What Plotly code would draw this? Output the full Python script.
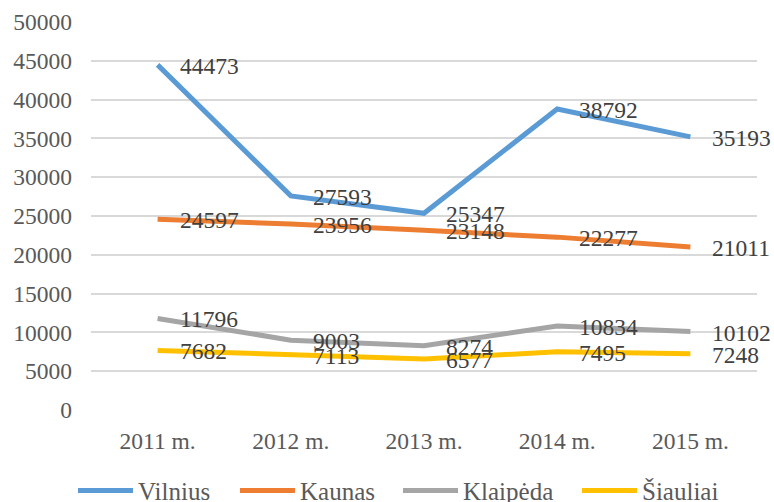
import plotly.graph_objects as go

categories = ["2011 m.", "2012 m.", "2013 m.", "2014 m.", "2015 m."]
series_names = ["Vilnius", "Kaunas", "Klaipėda", "Šiauliai"]
vilnius = [44473, 27593, 25347, 38792, 35193]
kaunas = [24597, 23956, 23148, 22277, 21011]
klaipeda = [11796, 9003, 8274, 10834, 10102]
siauliai = [7682, 7113, 6577, 7495, 7248]
colors = ["#5B9BD5", "#ED7D31", "#A5A5A5", "#FFC000"]
legend_widths = [92, 93, 109, 80]
y_ticks = list(range(0, 50001, 5000))

FONT = "Liberation Serif"
fig = go.Figure()
all_series = [vilnius, kaunas, klaipeda, siauliai]
for name, vals, col, lw in zip(series_names, all_series, colors, legend_widths):
    fig.add_trace(go.Scatter(
        x=categories, y=vals, name=name, mode="lines", legendwidth=lw,
        line=dict(color=col, width=5), hoverinfo="skip"))
    for c, v in zip(categories, vals):
        fig.add_annotation(x=c, y=v, text=str(v), showarrow=False,
                           xanchor="left", yanchor="middle", xshift=20, yshift=-1,
                           font=dict(family=FONT, size=23.5, color="#404040"))

fig.update_layout(
    width=774, height=502,
    margin=dict(l=91, r=17, t=22, b=92, autoexpand=False),
    paper_bgcolor="white", plot_bgcolor="white",
    font=dict(family=FONT, size=23.5, color="#595959"),
    showlegend=True,
    legend=dict(orientation="h", xref="container", yref="paper",
                x=73 / 774, xanchor="left", y=-0.149, yanchor="top",
                font=dict(family=FONT, size=25, color="#595959"),
                itemwidth=55, tracegroupgap=0,
                bgcolor="rgba(0,0,0,0)"),
    xaxis=dict(type="category", range=[-0.5, 4.5], showgrid=False, zeroline=False,
               showline=False, ticks="", ticklabelstandoff=14, fixedrange=True,
               automargin=False),
    yaxis=dict(range=[0, 50000], tickvals=y_ticks, ticktext=[str(t) for t in y_ticks],
               showgrid=True, gridcolor="#D9D9D9", gridwidth=1.5, zeroline=False,
               showline=False, ticks="", ticklabelstandoff=18, fixedrange=True,
               automargin=False),
)
fig.write_html("out.html", config={"displayModeBar": False},
               post_script="document.body.style.margin='0';document.body.style.overflow='hidden';")
